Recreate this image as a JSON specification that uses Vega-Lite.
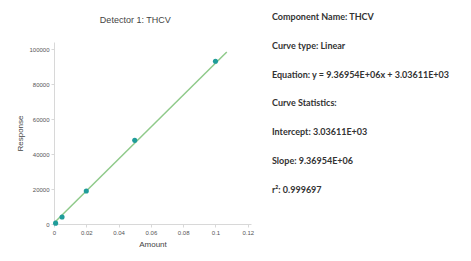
{
  "$schema": "https://vega.github.io/schema/vega-lite/v6.json",
  "padding": {"left": 16, "top": 13, "right": 0, "bottom": 0},
  "background": "white",
  "spacing": 18,
  "config": {
    "view": {"stroke": null},
    "font": "Liberation Sans",
    "axis": {"labelOverlap": false, "labelFlush": false}
  },
  "datasets": {
    "points": [
      {"amount": 0.001, "response": 500},
      {"amount": 0.005, "response": 4000},
      {"amount": 0.02, "response": 18900},
      {"amount": 0.05, "response": 47800},
      {"amount": 0.1, "response": 93000}
    ],
    "fit": [
      {"amount": 0.0, "response": 600},
      {"amount": 0.107, "response": 98300}
    ],
    "info": [
      {"row": 0, "col": 0, "text": "Component Name: THCV"},
      {"row": 1, "col": 0, "text": "Curve type: Linear"},
      {"row": 2, "col": 0, "text": "Equation: y = 9.36954E+06x + 3.03611E+03"},
      {"row": 3, "col": 0, "text": "Curve Statistics:"},
      {"row": 4, "col": 0, "text": "Intercept: 3.03611E+03"},
      {"row": 5, "col": 0, "text": "Slope: 9.36954E+06"},
      {"row": 6, "col": 0, "text": "r²: 0.999697"}
    ]
  },
  "hconcat": [
    {
      "width": 197,
      "height": 182,
      "title": {
        "text": "Detector 1: THCV",
        "fontSize": 9,
        "fontWeight": "normal",
        "color": "#444",
        "anchor": "middle",
        "frame": "bounds",
        "offset": 17
      },
      "encoding": {
        "x": {
          "field": "amount",
          "type": "quantitative",
          "scale": {"domain": [0, 0.122], "nice": false},
          "axis": {
            "title": "Amount",
            "values": [0, 0.02, 0.04, 0.06, 0.08, 0.1, 0.12],
            "format": "~g",
            "grid": false,
            "labelOverlap": false,
            "domainColor": "#d8d8d8",
            "tickColor": "#d8d8d8",
            "tickSize": 3,
            "labelFontSize": 6,
            "labelColor": "#555",
            "labelPadding": 2,
            "titleFontSize": 8,
            "titleFontWeight": "normal",
            "titleColor": "#444",
            "titlePadding": 5
          }
        },
        "y": {
          "field": "response",
          "type": "quantitative",
          "scale": {"domain": [0, 104000], "nice": false},
          "axis": {
            "title": "Response",
            "values": [0, 20000, 40000, 60000, 80000, 100000],
            "format": "d",
            "grid": false,
            "labelOverlap": false,
            "domainColor": "#d8d8d8",
            "tickColor": "#d8d8d8",
            "tickSize": 3,
            "labelFontSize": 6,
            "labelColor": "#555",
            "labelPadding": 2,
            "titleFontSize": 8,
            "titleFontWeight": "normal",
            "titleColor": "#444",
            "titlePadding": 4
          }
        }
      },
      "layer": [
        {
          "data": {"name": "fit"},
          "mark": {"type": "line", "color": "#8fca8a", "strokeWidth": 1.5}
        },
        {
          "data": {"name": "points"},
          "mark": {"type": "point", "shape": "circle", "filled": true, "size": 26, "color": "#1f9c9a", "opacity": 1}
        }
      ]
    },
    {
      "width": 200,
      "height": 182,
      "data": {"name": "info"},
      "mark": {"type": "text", "align": "left", "baseline": "middle", "font": "Lato", "fontWeight": "bold", "fontSize": 9, "color": "#333"},
      "encoding": {
        "x": {"field": "col", "type": "quantitative", "scale": {"domain": [0, 1]}, "axis": null},
        "y": {"field": "row", "type": "quantitative", "scale": {"domain": [0.867, 7.18], "nice": false, "zero": false, "reverse": true}, "axis": null},
        "text": {"field": "text"}
      }
    }
  ]
}
